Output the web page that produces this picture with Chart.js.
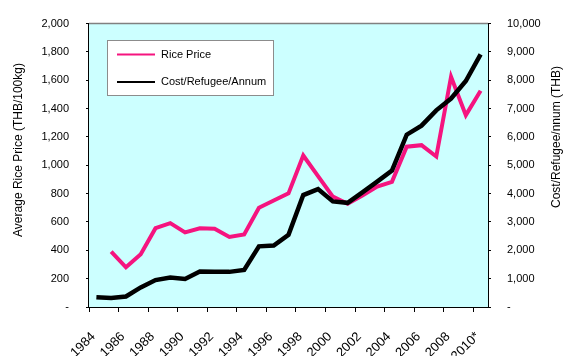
<!DOCTYPE html>
<html>
<head>
<meta charset="utf-8">
<script src="https://cdn.jsdelivr.net/npm/chart.js@4"></script>
<style>
  body { margin: 0; background: #fff; }
  #grafico { display: block; }
</style>
</head>
<body>
<canvas id="grafico" width="564" height="356"></canvas>
<script>
// Anos (2010 é estimativa)
const anos = ["1984", "1985", "1986", "1987", "1988", "1989", "1990", "1991", "1992",
  "1993", "1994", "1995", "1996", "1997", "1998", "1999", "2000", "2001", "2002",
  "2003", "2004", "2005", "2006", "2007", "2008", "2009", "2010*"];

// Preço médio do arroz (THB/100kg) - eixo esquerdo
const precoArroz = [null, 390, 280, 372, 556, 592, 527, 556, 552, 494, 512, 701, 752,
  802, 1069, 924, 779, 728, 786, 850, 883, 1131, 1142, 1062, 1625, 1354, 1526];

// Custo por refugiado por ano (THB) - eixo direito
const custoRefugiado = [345, 315, 370, 690, 950, 1040, 990, 1250, 1240, 1240, 1310,
  2140, 2170, 2550, 3950, 4160, 3725, 3675, 4045, 4425, 4815, 6080, 6400, 6940,
  7355, 7975, 8917];

const tituloEsq = "Average Rice Price (THB/100kg)";
const tituloDir = "Cost/Refugee/nnum (THB)";

const fonte = "'Liberation Sans', Arial, sans-serif";
const corArroz = "#f5147f";
const corCusto = "#000000";

function milhar(v) {
  if (v === 0) return "-";
  return v.toLocaleString("en-US");
}

// Fundo da área do gráfico, borda superior, títulos e legenda
const extras = {
  id: "extras",
  beforeDatasetsDraw(chart) {
    const { ctx, chartArea: a } = chart;
    ctx.save();
    ctx.fillStyle = "#ccffff";
    ctx.fillRect(a.left, a.top, a.right - a.left, a.bottom - a.top);
    ctx.strokeStyle = "#808080";
    ctx.lineWidth = 1.5;
    ctx.beginPath();
    ctx.moveTo(a.left, a.top);
    ctx.lineTo(a.right, a.top);
    ctx.stroke();
    ctx.restore();
  },
  afterDraw(chart) {
    const { ctx } = chart;
    ctx.save();
    ctx.fillStyle = "#000";
    ctx.font = "12px " + fonte;
    ctx.textAlign = "center";
    ctx.textBaseline = "middle";

    ctx.save();
    ctx.translate(19, 150);
    ctx.rotate(-Math.PI / 2);
    ctx.fillText(tituloEsq, 0, 0);
    ctx.restore();

    ctx.save();
    ctx.translate(557, 137);
    ctx.rotate(-Math.PI / 2);
    ctx.fillText(tituloDir, 0, 0);
    ctx.restore();

    // legenda
    ctx.fillStyle = "#fff";
    ctx.fillRect(107.5, 40.5, 166, 55);
    ctx.strokeStyle = "#8c8c8c";
    ctx.lineWidth = 1;
    ctx.strokeRect(107.5, 40.5, 166, 55);

    ctx.font = "11px " + fonte;
    ctx.textAlign = "left";
    chart.data.datasets.forEach((ds, i) => {
      const y = 54.5 + i * 27.5;
      ctx.strokeStyle = ds.borderColor;
      ctx.lineWidth = 2;
      ctx.beginPath();
      ctx.moveTo(117, y);
      ctx.lineTo(155, y);
      ctx.stroke();
      ctx.fillStyle = "#000";
      ctx.fillText(ds.label, 161, y);
    });
    ctx.restore();
  }
};

const ctx = document.getElementById("grafico").getContext("2d");
new Chart(ctx, {
  type: "line",
  data: {
    labels: anos,
    datasets: [
      {
        label: "Rice Price",
        data: precoArroz,
        yAxisID: "y",
        borderColor: corArroz,
        borderWidth: 4,
        pointRadius: 0,
        tension: 0,
        spanGaps: false,
        order: 1
      },
      {
        label: "Cost/Refugee/Annum",
        data: custoRefugiado,
        yAxisID: "y2",
        borderColor: corCusto,
        borderWidth: 4.5,
        pointRadius: 0,
        tension: 0,
        order: 0
      }
    ]
  },
  options: {
    responsive: false,
    animation: false,
    events: [],
    layout: { padding: { top: 6.5, left: 0, right: 0, bottom: 0 } },
    plugins: { legend: { display: false }, tooltip: { enabled: false } },
    scales: {
      x: {
        type: "category",
        offset: true,
        afterFit(s) { s.height = 49; },
        grid: {
          offset: true,
          drawOnChartArea: false,
          tickLength: 5,
          color: c => (c.index % 2 === 0 ? "#000" : "rgba(0,0,0,0)"),
          lineWidth: 1
        },
        border: { display: true, color: "#000", width: 2 },
        ticks: {
          autoSkip: false,
          minRotation: 45,
          maxRotation: 45,
          padding: 17,
          labelOffset: -3,
          color: "#000",
          font: { family: fonte, size: 13 },
          callback: (v, i) => (i % 2 === 0 ? anos[i] : "")
        }
      },
      y: {
        position: "left",
        min: 0,
        max: 2000,
        afterFit(s) { s.width = 89; },
        grid: { drawOnChartArea: false, tickLength: 3, color: "#000" },
        border: { display: true, color: "#000", width: 2 },
        ticks: {
          stepSize: 200,
          padding: 17,
          color: "#000",
          font: { family: fonte, size: 11 },
          callback: v => milhar(v)
        }
      },
      y2: {
        position: "right",
        min: 0,
        max: 10000,
        afterFit(s) { s.width = 76; },
        grid: { drawOnChartArea: false, tickLength: 3, color: "#000" },
        border: { display: true, color: "#000", width: 2 },
        ticks: {
          stepSize: 1000,
          padding: 16,
          color: "#000",
          font: { family: fonte, size: 11 },
          callback: v => milhar(v)
        }
      }
    }
  },
  plugins: [extras]
});
</script>
</body>
</html>
